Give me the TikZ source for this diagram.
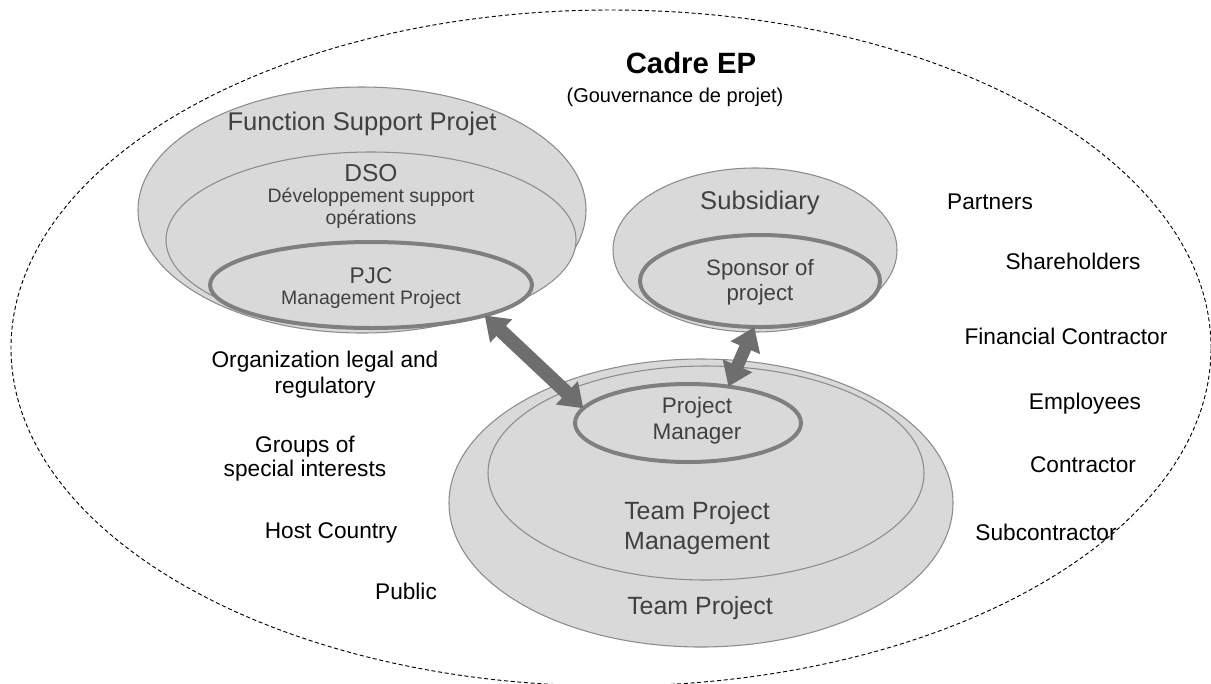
\documentclass[tikz,border=0pt]{standalone}
\usepackage{fontspec}
\setmainfont{Liberation Sans}
\usetikzlibrary{shapes.geometric,arrows.meta}
\definecolor{fillgrey}{HTML}{D9D9D9}
\definecolor{thinline}{HTML}{8C8C8C}
\definecolor{thickline}{HTML}{7F7F7F}
\definecolor{arrowgrey}{HTML}{6E6E6E}
\definecolor{intext}{HTML}{404040}
\tikzset{
  oval/.style={ellipse, fill=fillgrey, draw=thinline, line width=0.8pt, inner sep=0pt, outer sep=0pt},
  keyoval/.style={oval, draw=thickline, line width=3pt},
  frameoval/.style={ellipse, draw=black, line width=0.7pt, dash pattern=on 3pt off 2pt, inner sep=0pt, outer sep=0pt},
  intxt/.style={text=intext, inner sep=0pt, align=center},
  outtxt/.style={text=black, inner sep=0pt, align=center, font=\fontsize{17}{19.5}\selectfont},
  bigarrow/.style={draw=arrowgrey, line width=#1,
    {Triangle[length=17pt,width=23pt]}-{Triangle[length=17pt,width=23pt]}},
}
\begin{document}
\begin{tikzpicture}[x=0.75pt,y=-0.75pt]
\useasboundingbox (0,0) rectangle (1211,683);
\clip (0,0) rectangle (1211,683);
% outer frame
\node[frameoval, minimum width=900pt, minimum height=507pt] (frame) at (611,348) {};
% left group
\node[oval, minimum width=336pt, minimum height=184.5pt] (fsp) at (362,210) {};
\node[oval, minimum width=307.5pt, minimum height=132pt] (dso) at (371,240) {};
\node[keyoval, minimum width=241.5pt, minimum height=64.5pt] (pjc) at (371,285) {};
% subsidiary group
\node[oval, minimum width=213pt, minimum height=123pt] (subs) at (755,250) {};
\node[keyoval, minimum width=180pt, minimum height=69pt] (sponsor) at (760,281) {};
% team group
\node[oval, minimum width=378pt, minimum height=216pt] (tp) at (701,503) {};
\node[oval, minimum width=327pt, minimum height=160.5pt] (tpm) at (706,473) {};
\node[keyoval, minimum width=169.5pt, minimum height=58.5pt] (pm) at (688,423) {};
% arrows
\draw[bigarrow=10.5pt] (pjc.-15) -- (pm.172);
\draw[bigarrow=9.5pt] (sponsor.-97) -- (pm.42);
% titles
\node[inner sep=0pt, font=\bfseries\fontsize{22}{26}\selectfont] (cadre) at (691,63) {Cadre EP};
\node[inner sep=0pt, font=\fontsize{15}{18}\selectfont] (gouv) at (675,97) {(Gouvernance de projet)};
% inner texts
\node[intxt, font=\fontsize{19.2}{22}\selectfont] (tfsp) at (362,124) {Function Support Projet};
\node[intxt, font=\fontsize{18.4}{22}\selectfont] (tdso) at (371,173) {DSO};
\node[intxt, font=\fontsize{14.6}{16}\selectfont] (tdev) at (371,197) {Développement support};
\node[intxt, font=\fontsize{14.6}{16}\selectfont] (tops) at (371,219) {opérations};
\node[intxt, font=\fontsize{17}{20}\selectfont] (tpjc) at (371,276) {PJC};
\node[intxt, font=\fontsize{14.6}{16}\selectfont] (tmp) at (371,299) {Management Project};
\node[intxt, font=\fontsize{19.2}{22}\selectfont] (tsubs) at (760,203) {Subsidiary};
\node[intxt, font=\fontsize{16.7}{18.75}\selectfont] (tspon) at (760,282) {Sponsor of\\project};
\node[intxt, font=\fontsize{16.9}{19.5}\selectfont] (tpm) at (697,421) {Project\\Manager};
\node[intxt, font=\fontsize{18.7}{22.5}\selectfont] (ttpm) at (697,528) {Team Project\\Management};
\node[intxt, font=\fontsize{18.7}{22}\selectfont] (ttp) at (700,608) {Team Project};
% outside texts left
\node[outtxt] (org) at (325,375) {Organization legal and\\regulatory};
\node[outtxt, font=\fontsize{17}{18}\selectfont] (grp) at (305,459) {Groups of\\special interests};
\node[outtxt] (host) at (331,533) {Host Country};
\node[outtxt] (pub) at (406,591) {Public};
% outside texts right
\node[outtxt] (part) at (990,202) {Partners};
\node[outtxt] (share) at (1073,261) {Shareholders};
\node[outtxt] (fin) at (1066,336) {Financial Contractor};
\node[outtxt] (emp) at (1085,404) {Employees};
\node[outtxt] (con) at (1083,465) {Contractor};
\node[outtxt] (sub) at (1046,532) {Subcontractor};
\end{tikzpicture}
\end{document}
